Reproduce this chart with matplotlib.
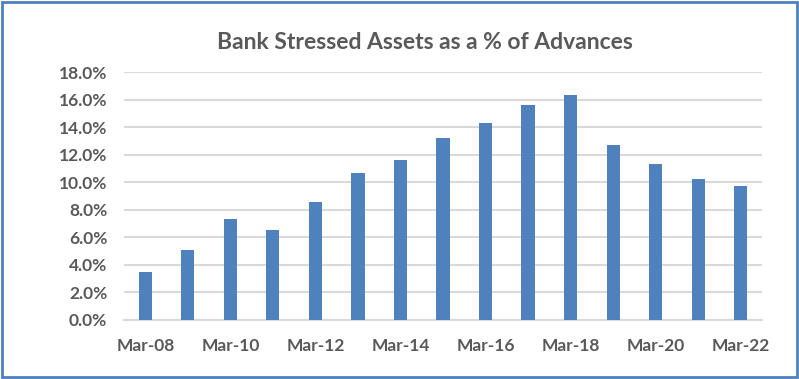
import numpy as np
import matplotlib
matplotlib.use('Agg')
import matplotlib.pyplot as plt
from matplotlib.ticker import PercentFormatter
from matplotlib.patches import Rectangle

# data
years = ['Mar-08', 'Mar-09', 'Mar-10', 'Mar-11', 'Mar-12', 'Mar-13', 'Mar-14', 'Mar-15',
         'Mar-16', 'Mar-17', 'Mar-18', 'Mar-19', 'Mar-20', 'Mar-21', 'Mar-22']
stressed = [3.5, 5.1, 7.3, 6.5, 8.6, 10.7, 11.6, 13.2, 14.3, 15.6, 16.3, 12.7, 11.3, 10.2, 9.7]
yticks = [0, 2, 4, 6, 8, 10, 12, 14, 16, 18]

text_col = '#595959'
plt.rcParams['font.family'] = ['Lato', 'DejaVu Sans']

fig = plt.figure(figsize=(7.99, 3.79), dpi=100)
ax = fig.add_axes([0.1552, 0.1557, 0.7985, 0.6543])

x = np.arange(len(years))
ax.bar(x, stressed, width=0.31, color='#4F81BD', zorder=3)

ax.set_xlim(-0.5, len(years) - 0.5)
ax.set_ylim(0, 18)
ax.set_yticks(yticks)
ax.yaxis.set_major_formatter(PercentFormatter(decimals=1))
ax.set_xticks(x[::2])
ax.set_xticklabels(years[::2])
ax.grid(axis='y', color='#D9D9D9', linewidth=1.5, zorder=0)
for s in ['top', 'right', 'left']:
    ax.spines[s].set_visible(False)
ax.spines['bottom'].set_color('#D9D9D9')
ax.spines['bottom'].set_linewidth(1.5)
ax.tick_params(length=0, labelsize=12.5, labelcolor=text_col)
ax.tick_params(axis='x', pad=13)
ax.tick_params(axis='y', pad=12)
for lbl in ax.get_xticklabels() + ax.get_yticklabels():
    lbl.set_fontweight('bold')

fig.text(0.532, 0.888, 'Bank Stressed Assets as a % of Advances', ha='center', va='center',
         fontsize=16.5, fontweight='bold', color=text_col)

# blue frame round the chart
fig.patches.append(Rectangle((0.002, 0.004), 0.995, 0.992, transform=fig.transFigure,
                             fill=False, edgecolor='#4F81BD', linewidth=2))

fig.savefig('out.png', dpi=100)
